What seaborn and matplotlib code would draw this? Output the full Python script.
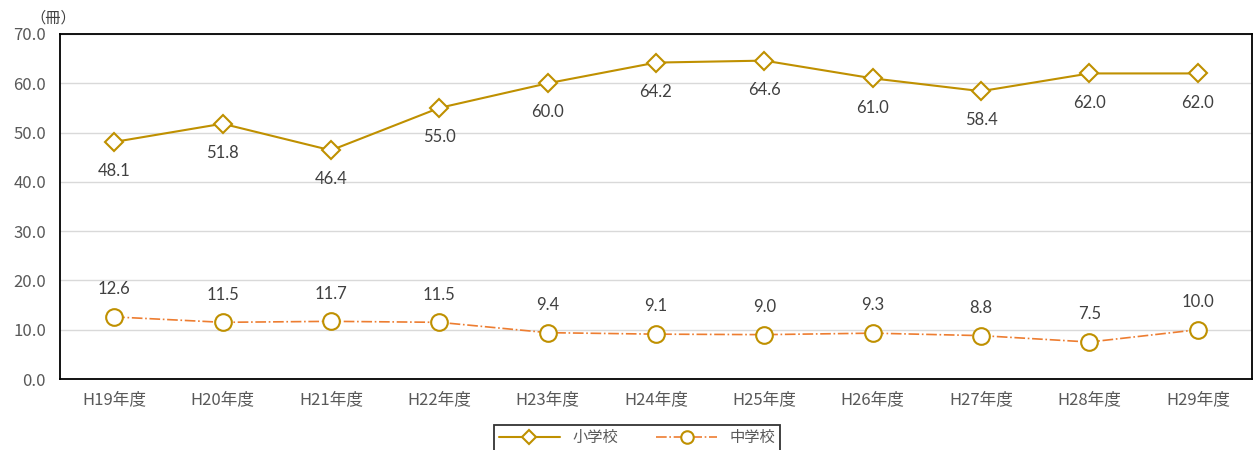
import matplotlib.pyplot as plt
import pandas as pd
import seaborn as sns

# =========================
# DATA
# =========================
years = ["H19年度", "H20年度", "H21年度", "H22年度", "H23年度", "H24年度",
         "H25年度", "H26年度", "H27年度", "H28年度", "H29年度"]
elementary = [48.1, 51.8, 46.4, 55.0, 60.0, 64.2, 64.6, 61.0, 58.4, 62.0, 62.0]
junior_high = [12.6, 11.5, 11.7, 11.5, 9.4, 9.1, 9.0, 9.3, 8.8, 7.5, 10.0]

GOLD = "#BF9000"
ORANGE = "#ED7D31"
JP_FONT = ["Noto Sans CJK JP", "DejaVu Sans"]

sns.set_style("white")
plt.rcParams["font.family"] = JP_FONT

df = pd.DataFrame({"year": years, "小学校": elementary, "中学校": junior_high})

fig = plt.figure(figsize=(12.53, 4.5), dpi=100)
ax = fig.add_axes([60 / 1253, 1 - 379 / 450, 1192 / 1253, 345 / 450])

sns.lineplot(data=df, x="year", y="小学校", ax=ax, color=GOLD, lw=1.5,
             marker="D", markersize=9, markerfacecolor="white",
             markeredgecolor=GOLD, markeredgewidth=1.5, label="小学校", sort=False)
sns.lineplot(data=df, x="year", y="中学校", ax=ax, color=ORANGE, lw=1.2,
             linestyle="-.", marker="o", markersize=12, markerfacecolor="white",
             markeredgecolor=GOLD, markeredgewidth=1.5, label="中学校", sort=False)

# data labels
for i, v in enumerate(elementary):
    ax.annotate(f"{v:.1f}", (i, v), xytext=(0, -21), textcoords="offset points",
                ha="center", va="center", fontsize=12, color="#404040", family="Lato")
for i, v in enumerate(junior_high):
    ax.annotate(f"{v:.1f}", (i, v), xytext=(0, 20), textcoords="offset points",
                ha="center", va="center", fontsize=12, color="#404040", family="Lato")

ax.set_xlim(-0.5, len(years) - 0.5)
ax.set_ylim(0, 70)
ax.set_yticks(range(0, 71, 10))
ax.set_yticklabels([f"{t:.1f}" for t in range(0, 71, 10)])
ax.yaxis.grid(True, color="#D9D9D9", lw=1)
ax.set_axisbelow(True)
ax.set_xlabel("")
ax.set_ylabel("")
ax.tick_params(axis="both", length=0, labelsize=12, labelcolor="#595959")
ax.tick_params(axis="x", pad=9)
ax.tick_params(axis="y", pad=10)
for side in ["left", "top", "bottom", "right"]:
    ax.spines[side].set_color("black")
    ax.spines[side].set_linewidth(1.3)

fig.text(30 / 1253, 1 - 18 / 450, "（冊）", fontsize=11, color="#404040",
         va="center", ha="left")

leg = ax.legend(loc="upper center", bbox_to_anchor=(637 / 1253, 1 - 417 / 450),
                bbox_transform=fig.transFigure, ncol=2, frameon=True, fontsize=11,
                handlelength=4, columnspacing=2.5, borderpad=0.3, fancybox=False,
                markerscale=0.75, handletextpad=0.8)
leg.get_frame().set_edgecolor("black")
leg.get_frame().set_linewidth(1.3)
for t in leg.get_texts():
    t.set_color("#595959")

fig.savefig("out.png", dpi=100)
